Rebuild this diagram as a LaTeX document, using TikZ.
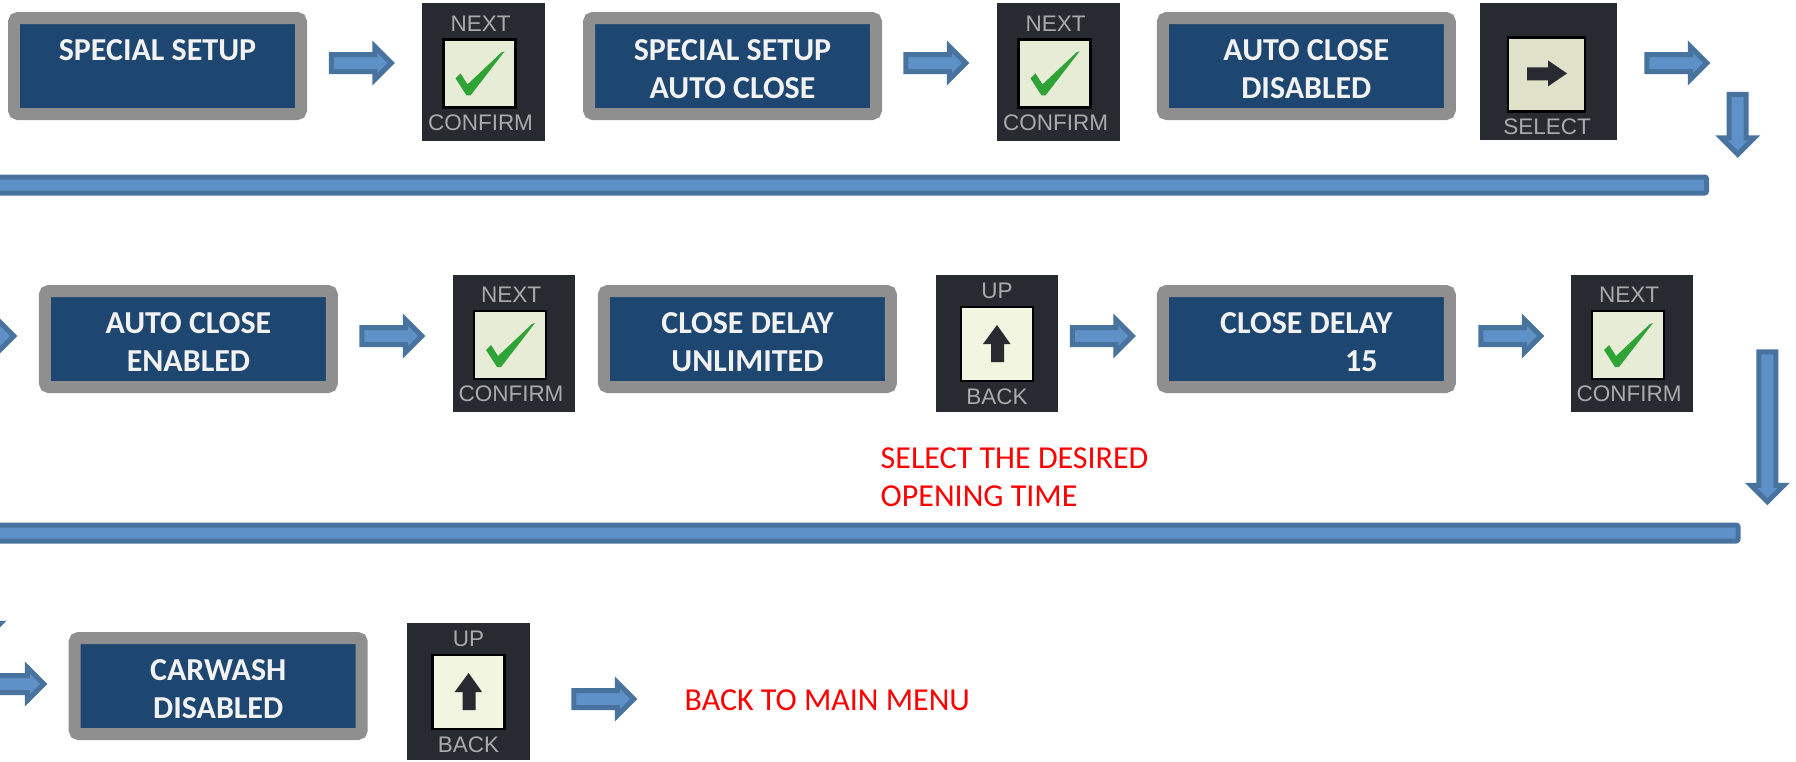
\documentclass[tikz,border=0pt]{standalone}
\usepackage{fontspec}
\setmainfont{Carlito}
\newfontfamily\keyfont{Liberation Sans}
\usetikzlibrary{shapes.arrows}
\definecolor{panelgray}{HTML}{8F8F8F}
\definecolor{panelblue}{HTML}{1D4670}
\definecolor{arrowline}{HTML}{49739F}
\definecolor{arrowfill}{HTML}{5E91C7}
\definecolor{keydark}{HTML}{272B31}
\definecolor{keylabel}{HTML}{A9ABAB}
\definecolor{tickgreen}{HTML}{2FA336}
\definecolor{nextface}{HTML}{E6ECD6}
\definecolor{selectface}{HTML}{DFE1C9}
\definecolor{upface}{HTML}{F2F5DF}
\tikzset{
    panel/.style={draw=panelgray, fill=panelblue, line width=.12cm, rounded corners=.04cm,
        minimum width=2.87cm, minimum height=.96cm, inner sep=0, align=center, text=white!95!black,
        font=\fontsize{9.1}{10.8}\selectfont\bfseries, text height=.64cm, text depth=0cm},
    blockarrow/.style={single arrow, draw=arrowline, fill=arrowfill, line width=.05cm, inner sep=0,
        text height=.12cm, text depth=0cm, minimum height=.60cm, single arrow head extend=.08cm},
    downarrow/.style={blockarrow, rotate=-90},
    bar/.style={draw=arrowline, fill=arrowfill, line width=.05cm, rounded corners=.02cm,
        minimum height=.16cm, inner sep=0, anchor=east},
    redtext/.style={text=red, anchor=west, align=left, inner sep=0,
        font=\fontsize{9.1}{10.8}\selectfont},
    keybody/.style={fill=keydark, inner sep=0, anchor=north west},
    keyface/.style={draw=black, line width=.025cm, inner sep=0},
    keytext/.style={text=keylabel, inner sep=0, font=\fontsize{6.4}{7}\keyfont},
    nextkey/.pic={
        \node[keybody, minimum width=1.225cm, minimum height=1.375cm] (-body) at (0, 0) {};
        \node[keyface, fill=nextface, minimum width=.72cm, minimum height=.68cm] (-face) at (.58, -.71) {};
        \fill[tickgreen] (.34, -.76) -- (.39, -.71) -- (.46, -.82) -- (.80, -.50) -- (.83, -.49) -- (.49, -.93) -- (.45, -.93) -- cycle;
        \node[keytext] (-top) at (.59, -.21) {NEXT};
        \node[keytext] (-bottom) at (.59, -1.20) {CONFIRM};
    },
    selectkey/.pic={
        \node[keybody, minimum width=1.375cm, minimum height=1.37cm] (-body) at (0, 0) {};
        \node[keyface, fill=selectface, minimum width=.77cm, minimum height=.74cm] (-face) at (.675, -.72) {};
        \fill[keydark] (.48, -.65) -- (.69, -.65) -- (.69, -.58) -- (.88, -.71) -- (.69, -.84) -- (.69, -.78) -- (.48, -.78) -- cycle;
        \node[keytext] (-bottom) at (.68, -1.24) {SELECT};
    },
    upkey/.pic={
        \node[keybody, minimum width=1.225cm, minimum height=1.375cm] (-body) at (0, 0) {};
        \node[keyface, fill=upface, minimum width=.72cm, minimum height=.74cm] (-face) at (.62, -.70) {};
        \fill[keydark] (.62, -.51) -- (.755, -.70) -- (.69, -.70) -- (.69, -.88) -- (.56, -.88) -- (.56, -.70) -- (.48, -.70) -- cycle;
        \node[keytext] (-top) at (.62, -.17) {UP};
        \node[keytext] (-bottom) at (.62, -1.23) {BACK};
    }
}
\begin{document}
\begin{tikzpicture}
    \clip (0, 0) rectangle (17.96, 7.61);

    % first row
    \node[panel] (setup) at (1.575, 6.95) {SPECIAL SETUP\\~};
    \node[blockarrow] (setupArrow) at (3.57, 6.98) {};
    \pic (setupKey) at (4.215, 7.586) {nextkey};
    \node[panel] (autoClose) at (7.325, 6.95) {SPECIAL SETUP\\AUTO CLOSE};
    \node[blockarrow] (autoCloseArrow) at (9.315, 6.98) {};
    \pic (autoCloseKey) at (9.965, 7.586) {nextkey};
    \node[panel] (disabled) at (13.063, 6.95) {AUTO CLOSE\\DISABLED};
    \pic (disabledKey) at (14.79, 7.586) {selectkey};
    \node[blockarrow] (disabledArrow) at (16.725, 6.98) {};
    \node[downarrow] (rowOneDown) at (17.377, 6.41) {};
    \node[bar, minimum width=17.5cm] (barOne) at (17.09, 5.76) {};

    % second row
    \node[blockarrow] (enterRowTwo) at (-.205, 4.25) {};
    \node[panel] (enabled) at (1.884, 4.22) {AUTO CLOSE\\ENABLED};
    \node[blockarrow] (enabledArrow) at (3.875, 4.25) {};
    \pic (enabledKey) at (4.52, 4.87) {nextkey};
    \node[panel] (unlimited) at (7.474, 4.22) {CLOSE DELAY\\UNLIMITED};
    \pic (unlimitedKey) at (9.35, 4.87) {upkey};
    \node[blockarrow] (unlimitedArrow) at (10.98, 4.25) {};
    \node[panel] (delay) at (13.063, 4.22) {CLOSE DELAY\\\hspace*{1.1cm}15};
    \node[blockarrow] (delayArrow) at (15.065, 4.25) {};
    \pic (delayKey) at (15.70, 4.87) {nextkey};
    \node[downarrow, minimum height=1.5cm] (rowTwoDown) at (17.674, 3.385) {};
    \node[redtext] (desiredNote) at (8.80, 2.84) {SELECT THE DESIRED\\OPENING TIME};
    \node[bar, minimum width=17.8cm] (barTwo) at (17.405, 2.28) {};

    % third row
    \node[downarrow, minimum height=.75cm] (rowThreeDown) at (-.16, 1.63) {};
    \node[blockarrow] (enterRowThree) at (.095, .77) {};
    \node[panel] (carwash) at (2.182, .75) {CARWASH\\DISABLED};
    \pic (carwashKey) at (4.066, 1.39) {upkey};
    \node[blockarrow] (carwashArrow) at (5.995, .62) {};
    \node[redtext] (backNote) at (6.84, .61) {BACK TO MAIN MENU};
\end{tikzpicture}
\end{document}
